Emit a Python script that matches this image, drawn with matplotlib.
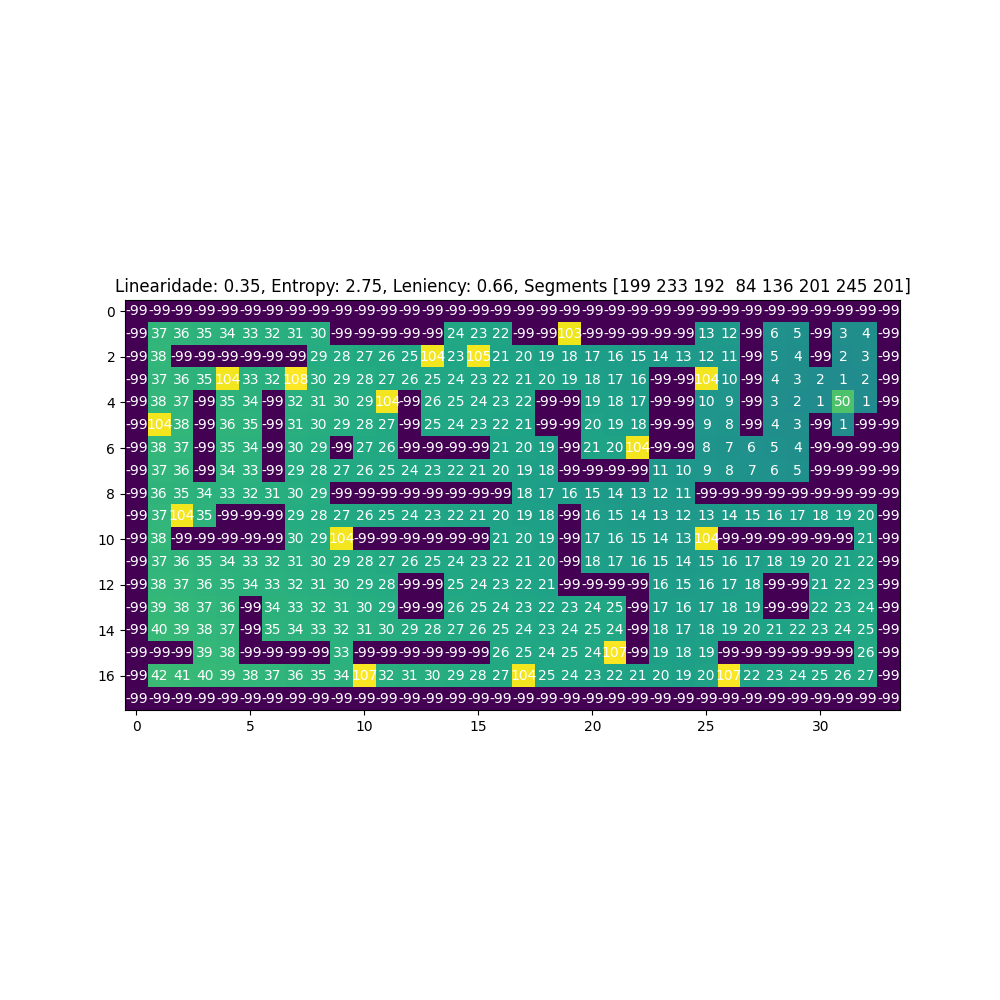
import numpy as np
import matplotlib
matplotlib.use("Agg")
import matplotlib.pyplot as plt

W = -99
linhas = [
    [W] * 34,
    [W, 37, 36, 35, 34, 33, 32, 31, 30, W, W, W, W, W, 24, 23, 22, W, W, 103, W, W, W, W, W, 13, 12, W, 6, 5, W, 3, 4, W],
    [W, 38, W, W, W, W, W, W, 29, 28, 27, 26, 25, 104, 23, 105, 21, 20, 19, 18, 17, 16, 15, 14, 13, 12, 11, W, 5, 4, W, 2, 3, W],
    [W, 37, 36, 35, 104, 33, 32, 108, 30, 29, 28, 27, 26, 25, 24, 23, 22, 21, 20, 19, 18, 17, 16, W, W, 104, 10, W, 4, 3, 2, 1, 2, W],
    [W, 38, 37, W, 35, 34, W, 32, 31, 30, 29, 104, W, 26, 25, 24, 23, 22, W, W, 19, 18, 17, W, W, 10, 9, W, 3, 2, 1, 50, 1, W],
    [W, 104, 38, W, 36, 35, W, 31, 30, 29, 28, 27, W, 25, 24, 23, 22, 21, W, W, 20, 19, 18, W, W, 9, 8, W, 4, 3, W, 1, W, W],
    [W, 38, 37, W, 35, 34, W, 30, 29, W, 27, 26, W, W, W, W, 21, 20, 19, W, 21, 20, 104, W, W, 8, 7, 6, 5, 4, W, W, W, W],
    [W, 37, 36, W, 34, 33, W, 29, 28, 27, 26, 25, 24, 23, 22, 21, 20, 19, 18, W, W, W, W, 11, 10, 9, 8, 7, 6, 5, W, W, W, W],
    [W, 36, 35, 34, 33, 32, 31, 30, 29, W, W, W, W, W, W, W, W, 18, 17, 16, 15, 14, 13, 12, 11, W, W, W, W, W, W, W, W, W],
    [W, 37, 104, 35, W, W, W, 29, 28, 27, 26, 25, 24, 23, 22, 21, 20, 19, 18, W, 16, 15, 14, 13, 12, 13, 14, 15, 16, 17, 18, 19, 20, W],
    [W, 38, W, W, W, W, W, 30, 29, 104, W, W, W, W, W, W, 21, 20, 19, W, 17, 16, 15, 14, 13, 104, W, W, W, W, W, W, 21, W],
    [W, 37, 36, 35, 34, 33, 32, 31, 30, 29, 28, 27, 26, 25, 24, 23, 22, 21, 20, W, 18, 17, 16, 15, 14, 15, 16, 17, 18, 19, 20, 21, 22, W],
    [W, 38, 37, 36, 35, 34, 33, 32, 31, 30, 29, 28, W, W, 25, 24, 23, 22, 21, W, W, W, W, 16, 15, 16, 17, 18, W, W, 21, 22, 23, W],
    [W, 39, 38, 37, 36, W, 34, 33, 32, 31, 30, 29, W, W, 26, 25, 24, 23, 22, 23, 24, 25, W, 17, 16, 17, 18, 19, W, W, 22, 23, 24, W],
    [W, 40, 39, 38, 37, W, 35, 34, 33, 32, 31, 30, 29, 28, 27, 26, 25, 24, 23, 24, 25, 24, W, 18, 17, 18, 19, 20, 21, 22, 23, 24, 25, W],
    [W, W, W, 39, 38, W, W, W, W, 33, W, W, W, W, W, W, 26, 25, 24, 25, 24, 107, W, 19, 18, 19, W, W, W, W, W, W, 26, W],
    [W, 42, 41, 40, 39, 38, 37, 36, 35, 34, 107, 32, 31, 30, 29, 28, 27, 104, 25, 24, 23, 22, 21, 20, 19, 20, 107, 22, 23, 24, 25, 26, 27, W],
    [W] * 34,
]
mapa = np.array(linhas)
segmentos = np.array([199, 233, 192, 84, 136, 201, 245, 201])

fig, ax = plt.subplots(figsize=(10, 10), dpi=100)
ax.imshow(mapa, cmap="viridis")
for i in range(mapa.shape[0]):
    for j in range(mapa.shape[1]):
        ax.text(j, i, mapa[i, j], ha="center", va="center", color="w")

ax.set_title("Linearidade: 0.35, Entropy: 2.75, Leniency: 0.66, Segments " + str(segmentos))
fig.savefig("out.png")
